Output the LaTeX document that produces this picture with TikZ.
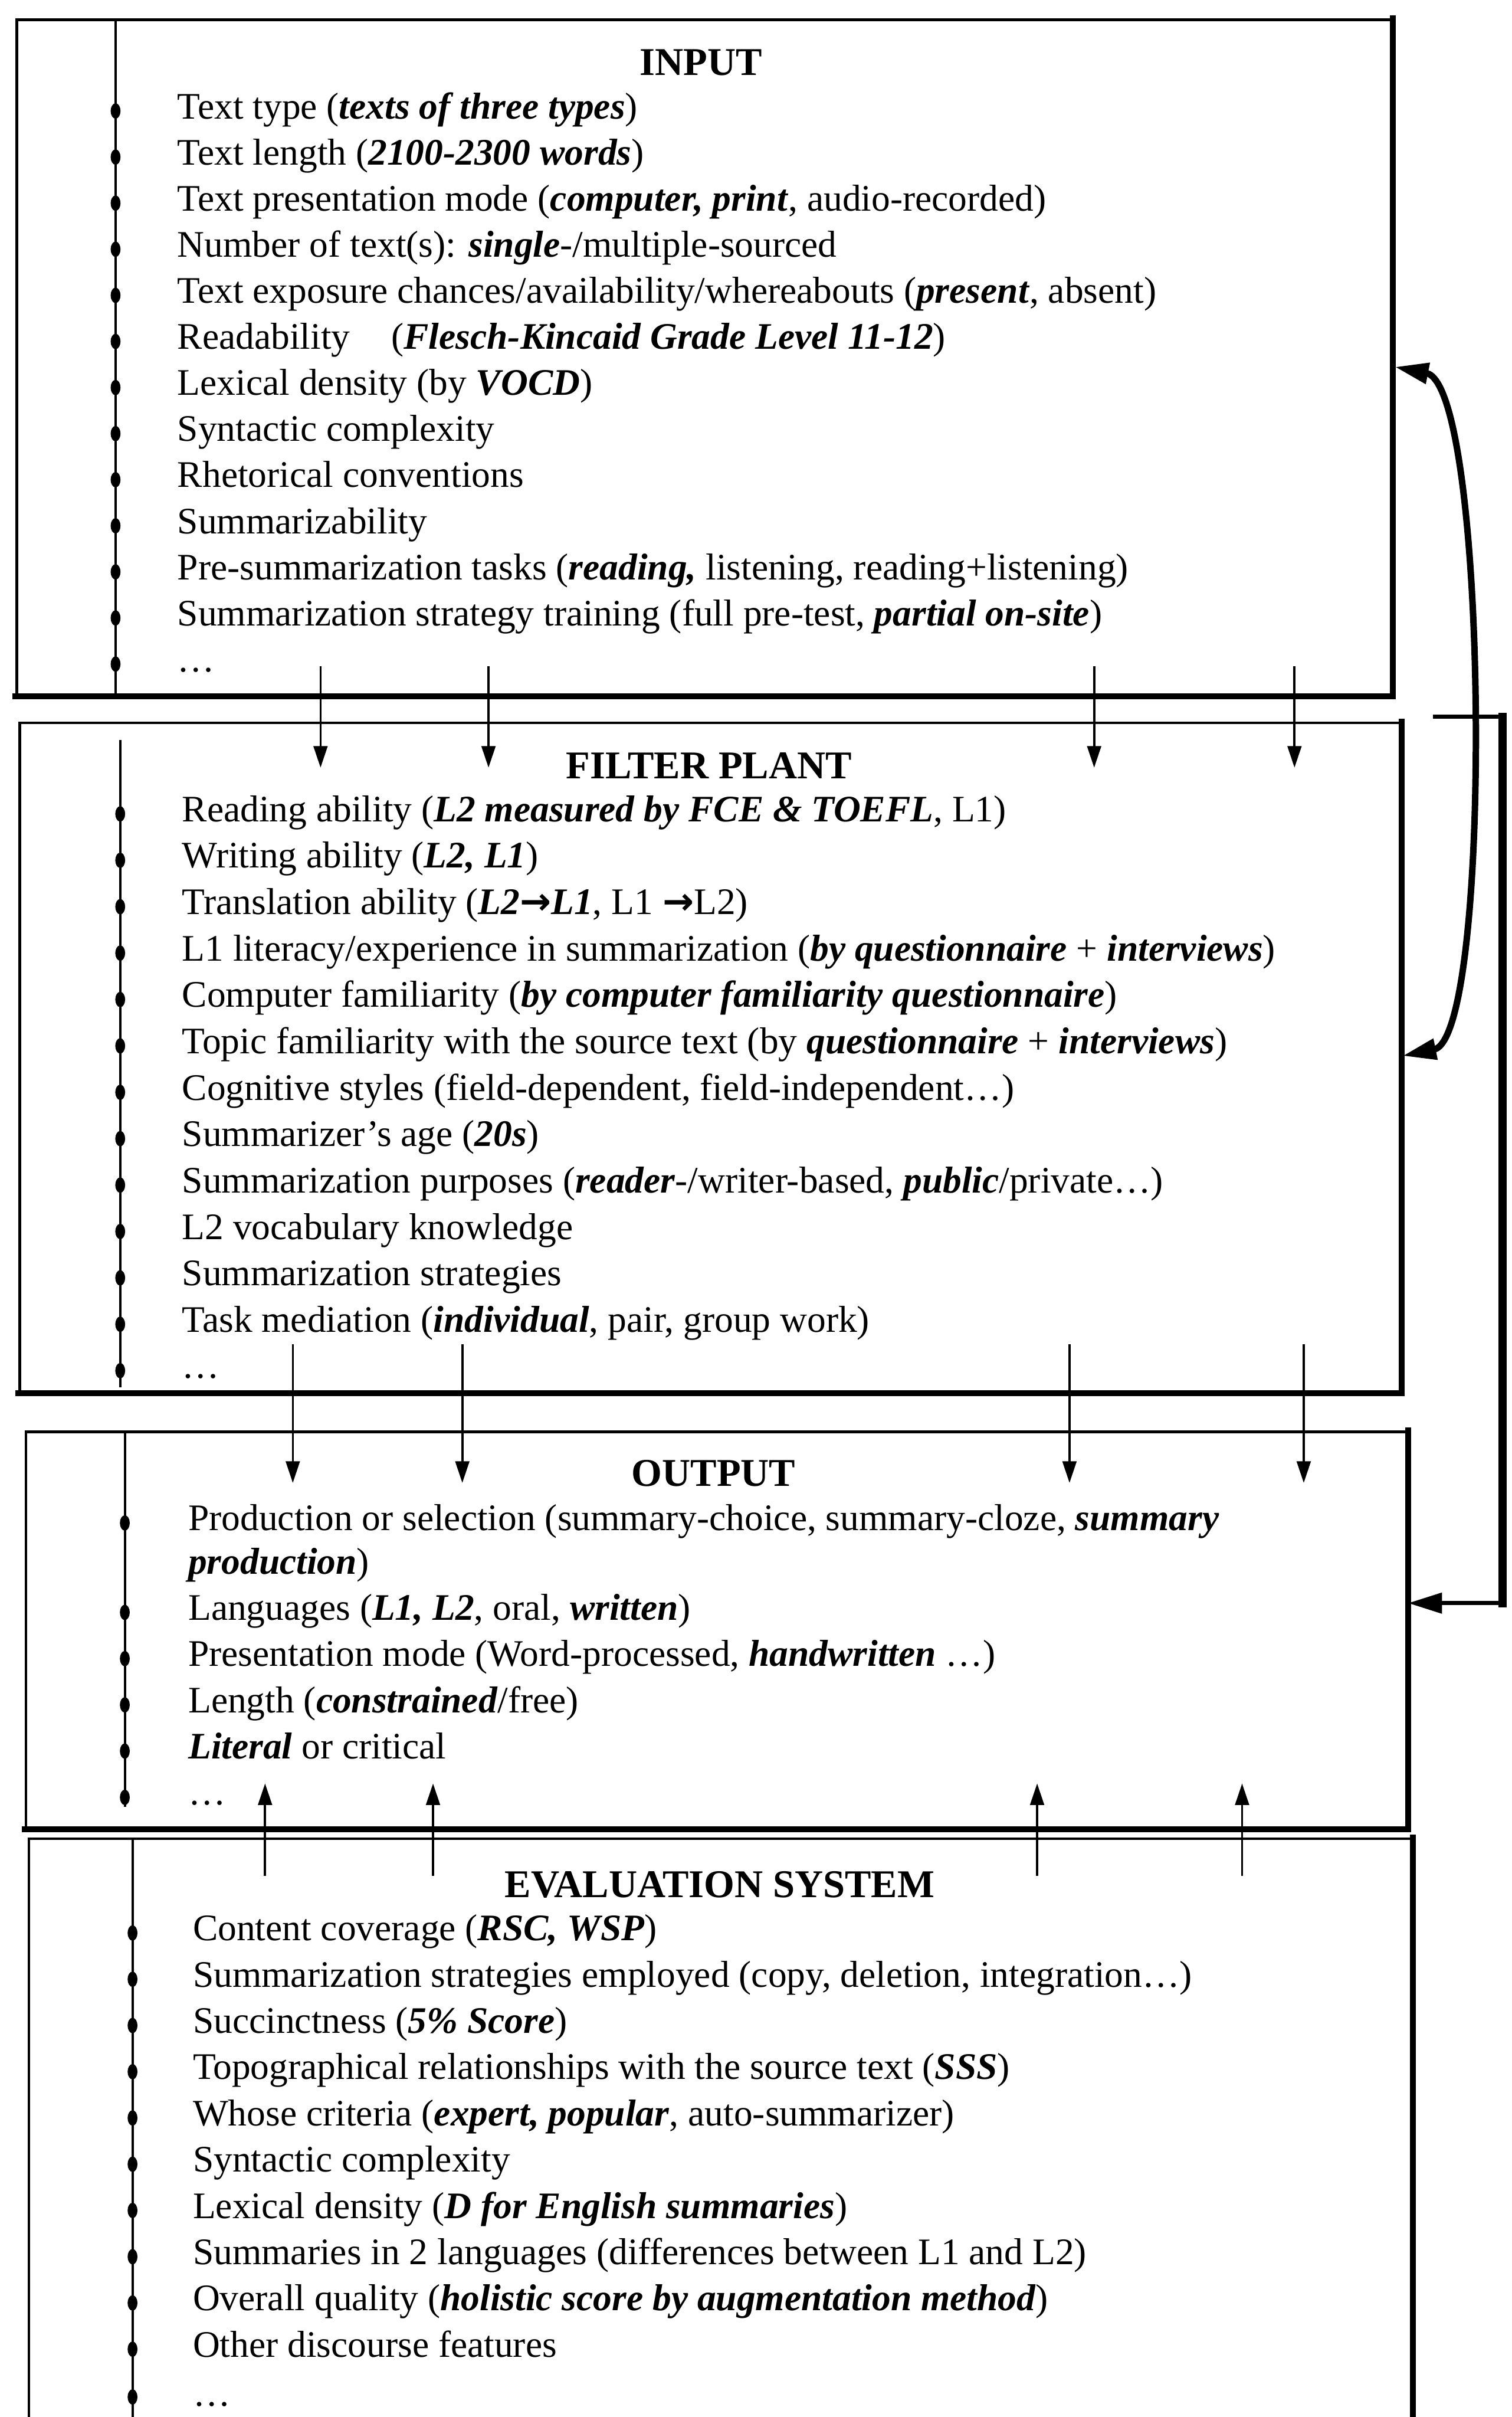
\documentclass[tikz,border=0pt]{standalone}
\usepackage{fontspec}
\setmainfont{Liberation Serif}
\newfontfamily\arrowfont{DejaVu Sans}
\usetikzlibrary{arrows.meta}
\newcommand{\bi}[1]{\textbf{\textit{#1}}}
\newcommand{\rarr}{{\arrowfont\bfseries →}}

\begin{document}
\begin{tikzpicture}[x=1pt,y=-1pt,
  boxframe/.style={draw, line width=1.7pt, inner sep=0pt, anchor=north west},
  heavy/.style={line width=3.8pt, line cap=rect},
  spine/.style={line width=1.5pt},
  itemtext/.style={anchor=base west, inner sep=0pt, yshift=-2pt, font=\fontsize{24.3}{28}\selectfont},
  heading/.style={anchor=base, inner sep=0pt, yshift=-2pt, font=\fontsize{25.5}{30}\selectfont\bfseries},
  flow/.style={line width=1.4pt, -{Triangle[length=14pt,width=9pt]}},
  bigtip/.style={line width=4.2pt},
]
\useasboundingbox (0,0) rectangle (981,1568);
\begin{scope}
\clip (0,0) rectangle (981,1568);

% ---------------- frames ----------------
\node[boxframe, minimum width=892pt, minimum height=438pt] (inbox) at (10,12) {};
\draw[heavy] (inbox.north east) -- (inbox.south east) -- (inbox.south west);
\node[boxframe, minimum width=896pt, minimum height=434pt] (filbox) at (12,468) {};
\draw[heavy] (filbox.north east) -- (filbox.south east) -- (filbox.south west);
\node[boxframe, minimum width=896pt, minimum height=257pt] (outbox) at (16,928) {};
\draw[heavy] (outbox.north east) -- (outbox.south east) -- (outbox.south west);
\node[boxframe, minimum width=897pt, minimum height=420pt] (evbox) at (18,1192) {};
\draw[heavy] (evbox.north east) -- (evbox.south east);

% ---------------- spines with bullets ----------------
\draw[spine] (75,12) -- (75,450);
\foreach \k in {0,...,12} \fill (75,{72+29.9*\k}) ellipse (3.2 and 5);
\draw[spine] (78,480) -- (78,900);
\foreach \k in {0,...,12} \fill (78,{528+30.1*\k}) ellipse (3.2 and 5);
\draw[spine] (81,928) -- (81,1172);
\foreach \yy in {988,1046,1076,1106,1136,1166} \fill (81,\yy) ellipse (3.2 and 5);
\draw[spine] (86,1192) -- (86,1568);
\foreach \k in {0,...,9} \fill (86,{1254+30*\k}) ellipse (3.2 and 5);
\fill (86,1555) ellipse (3.2 and 5);

% ---------------- INPUT ----------------
\node[heading] (inhead) at (455,47) {INPUT};
\node[itemtext] (in1) at (115,75.0) {Text type (\bi{texts of three types})};
\node[itemtext] (in2) at (115,104.9) {Text length (\bi{2100-2300 words})};
\node[itemtext] (in3) at (115,134.8) {Text presentation mode (\bi{computer, print}, audio-recorded)};
\node[itemtext] (in4) at (115,164.7) {Number of text(s): \bi{single}-/multiple-sourced};
\node[itemtext] (in5) at (115,194.6) {Text exposure chances/availability/whereabouts (\bi{present}, absent)};
\node[itemtext] (in6) at (115,224.5) {Readability\hspace{1.1em}(\bi{Flesch-Kincaid Grade Level 11-12})};
\node[itemtext] (in7) at (115,254.4) {Lexical density (by \bi{VOCD})};
\node[itemtext] (in8) at (115,284.3) {Syntactic complexity};
\node[itemtext] (in9) at (115,314.2) {Rhetorical conventions};
\node[itemtext] (in10) at (115,344.1) {Summarizability};
\node[itemtext] (in11) at (115,374.0) {Pre-summarization tasks (\bi{reading,} listening, reading+listening)};
\node[itemtext] (in12) at (115,403.9) {Summarization strategy training (full pre-test, \bi{partial on-site})};
\node[itemtext] (in13) at (115,433.8) {\dots};

% ---------------- FILTER PLANT ----------------
\node[heading] (filhead) at (460,503) {FILTER PLANT};
\node[itemtext] (f1) at (118,531.0) {Reading ability (\bi{L2 measured by FCE \& TOEFL}, L1)};
\node[itemtext] (f2) at (118,561.1) {Writing ability (\bi{L2, L1})};
\node[itemtext] (f3) at (118,591.2) {Translation ability (\bi{L2\rarr L1}, L1 \rarr L2)};
\node[itemtext] (f4) at (118,621.3) {L1 literacy/experience in summarization (\bi{by questionnaire} + \bi{interviews})};
\node[itemtext] (f5) at (118,651.4) {Computer familiarity (\bi{by computer familiarity questionnaire})};
\node[itemtext] (f6) at (118,681.5) {Topic familiarity with the source text (by \bi{questionnaire} + \bi{interviews})};
\node[itemtext] (f7) at (118,711.6) {Cognitive styles (field-dependent, field-independent\dots)};
\node[itemtext] (f8) at (118,741.7) {Summarizer’s age (\bi{20s})};
\node[itemtext] (f9) at (118,771.8) {Summarization purposes (\bi{reader}-/writer-based, \bi{public}/private\dots)};
\node[itemtext] (f10) at (118,801.9) {L2 vocabulary knowledge};
\node[itemtext] (f11) at (118,832.0) {Summarization strategies};
\node[itemtext] (f12) at (118,862.1) {Task mediation (\bi{individual}, pair, group work)};
\node[itemtext] (f13) at (118,892.2) {\dots};

% ---------------- OUTPUT ----------------
\node[heading] (outhead) at (463,962) {OUTPUT};
\node[itemtext] (o1) at (122,991) {Production or selection (summary-choice, summary-cloze, \bi{summary}};
\node[itemtext] (o1b) at (122,1019) {\bi{production})};
\node[itemtext] (o2) at (122,1049) {Languages (\bi{L1, L2}, oral, \bi{written})};
\node[itemtext] (o3) at (122,1079) {Presentation mode (Word-processed, \bi{handwritten} \dots)};
\node[itemtext] (o4) at (122,1109) {Length (\bi{constrained}/free)};
\node[itemtext] (o5) at (122,1139) {\bi{Literal} or critical};
\node[itemtext] (o6) at (122,1169) {\dots};

% ---------------- EVALUATION SYSTEM ----------------
\node[heading] (evhead) at (467,1229) {EVALUATION SYSTEM};
\node[itemtext] (e1) at (125,1257) {Content coverage (\bi{RSC, WSP})};
\node[itemtext] (e2) at (125,1287) {Summarization strategies employed (copy, deletion, integration\dots)};
\node[itemtext] (e3) at (125,1317) {Succinctness (\bi{5\% Score})};
\node[itemtext] (e4) at (125,1347) {Topographical relationships with the source text (\bi{SSS})};
\node[itemtext] (e5) at (125,1377) {Whose criteria (\bi{expert, popular}, auto-summarizer)};
\node[itemtext] (e6) at (125,1407) {Syntactic complexity};
\node[itemtext] (e7) at (125,1437) {Lexical density (\bi{D for English summaries})};
\node[itemtext] (e8) at (125,1467) {Summaries in 2 languages (differences between L1 and L2)};
\node[itemtext] (e9) at (125,1497) {Overall quality (\bi{holistic score by augmentation method})};
\node[itemtext] (e10) at (125,1527) {Other discourse features};
\node[itemtext] (e11) at (125,1559) {\dots};

% ---------------- vertical flow arrows ----------------
\foreach \n/\x in {1/208,2/317,3/710,4/840} {
  \coordinate (if\n s) at (\x,432);
  \coordinate (if\n e) at (\x,498);
  \draw[flow] (if\n s) -- (if\n e);
}
\foreach \n/\x in {1/190,2/300,3/694,4/846} {
  \coordinate (fo\n s) at (\x,872);
  \coordinate (fo\n e) at (\x,962);
  \draw[flow] (fo\n s) -- (fo\n e);
}
\foreach \n/\x in {1/172,2/281,3/673,4/806} {
  \coordinate (eo\n s) at (\x,1217);
  \coordinate (eo\n e) at (\x,1157);
  \draw[flow] (eo\n s) -- (eo\n e);
}

% ---------------- feedback connectors on the right ----------------
\coordinate (cu1) at (905,238);
\coordinate (cu2) at (910,685);
\draw[bigtip, {Triangle[length=22pt,width=13pt]}-{Triangle[length=22pt,width=13pt]}]
  (cu1) .. controls (966,250) and (969,673) .. (cu2);
\coordinate (lp0) at (930,465);
\coordinate (lp1) at (975,465);
\coordinate (lp2) at (975,1040);
\draw[line width=2.8pt] (lp0) -- (lp1);
\draw[line width=5.5pt, line cap=rect] (lp1) -- (lp2);
\draw[line width=2.8pt, -{Triangle[length=22pt,width=13pt]}] (lp2) -- (lp2 -| outbox.east);
\end{scope}
\end{tikzpicture}
\end{document}
